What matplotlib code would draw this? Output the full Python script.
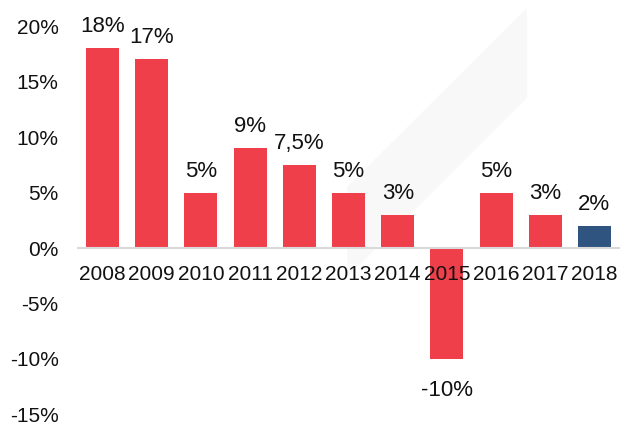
import matplotlib
matplotlib.use("Agg")
import matplotlib.pyplot as plt
from matplotlib.patches import Polygon

years = ["2008", "2009", "2010", "2011", "2012", "2013", "2014", "2015", "2016", "2017", "2018"]
values = [18, 17, 5, 9, 7.5, 5, 3, -10, 5, 3, 2]
labels = ["18%", "17%", "5%", "9%", "7,5%", "5%", "3%", "-10%", "5%", "3%", "2%"]
y_ticks = [-15, -10, -5, 0, 5, 10, 15, 20]

RED = "#EF3F4A"
BLUE = "#2F5480"
colors = [RED] * 10 + [BLUE]

plt.rcParams['font.family'] = ['Liberation Sans', 'DejaVu Sans']

W, H = 620, 425
fig = plt.figure(figsize=(W / 100, H / 100), dpi=100)
ax = fig.add_axes([78 / W, 1 - 414.5 / H, (619 - 78) / W, (414.5 - 26) / H])
ax.patch.set_visible(False)

# faint watermark
wm = [(527, 8), (527, 98), (347, 277), (347, 187)]
fig.patches.append(Polygon([(x / W, 1 - y / H) for x, y in wm], closed=True,
                           transform=fig.transFigure, facecolor="#f8f8f8",
                           edgecolor="none", zorder=-1))

x = list(range(len(years)))
ax.bar(x, values, width=0.67, color=colors, zorder=1)

for xi, v, lab in zip(x, values, labels):
    if v >= 0:
        ax.annotate(lab, (xi, v), xytext=(0, 11.5), textcoords="offset points",
                    ha="center", va="baseline", fontsize=16, color="#111111")
    else:
        ax.annotate(lab, (xi, v), xytext=(0, -15), textcoords="offset points",
                    ha="center", va="top", fontsize=16, color="#111111")

ax.set_xlim(-0.5, len(years) - 0.5)
ax.set_ylim(-15, 20)
ax.set_yticks(y_ticks)
ax.set_yticklabels([f"{t}%" for t in y_ticks])
ax.set_xticks(x)
ax.set_xticklabels(years)

for s in ["top", "right", "left"]:
    ax.spines[s].set_visible(False)
ax.spines["bottom"].set_position(("data", 0))
ax.spines["bottom"].set_color("#d9d9d9")
ax.spines["bottom"].set_linewidth(1.5)

ax.tick_params(axis="y", length=0, pad=14, labelsize=15, labelcolor="#111111")
ax.tick_params(axis="x", length=0, pad=12, labelsize=15, labelcolor="#111111")

fig.savefig("out.png", dpi=100)
